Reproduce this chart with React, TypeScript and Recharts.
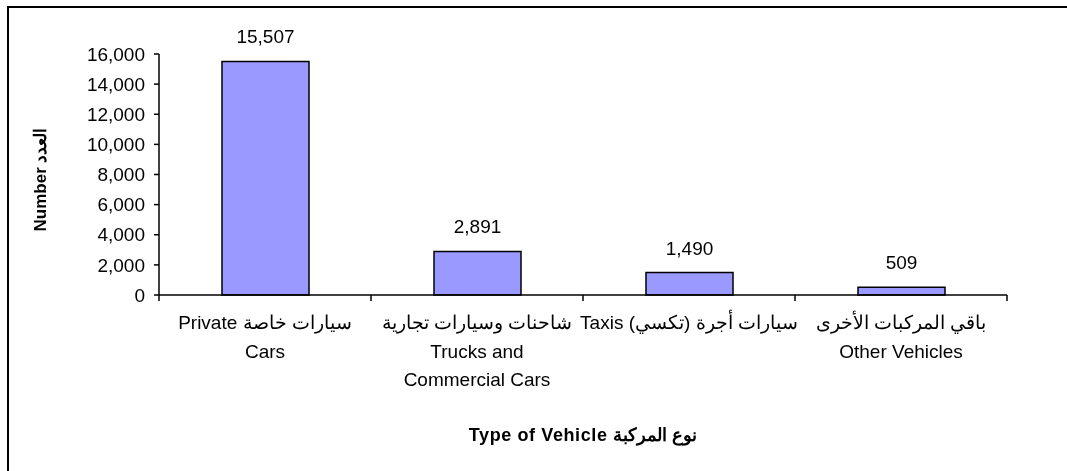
import React from 'react';
import { BarChart, Bar, XAxis, YAxis, LabelList, Label } from 'recharts';

const categories: string[][] = [
  ['Private سيارات خاصة', 'Cars'],
  ['شاحنات وسيارات تجارية', 'Trucks and', 'Commercial Cars'],
  ['Taxis سيارات أجرة (تكسي)'],
  ['باقي المركبات الأخرى', 'Other Vehicles'],
];
const values: number[] = [15507, 2891, 1490, 509];
const yTicks: number[] = [0, 2000, 4000, 6000, 8000, 10000, 12000, 14000, 16000];
const xTitle = 'Type of Vehicle نوع المركبة';
const yTitle = 'Number العدد';

const data = categories.map((c, i) => ({ name: String(i), value: values[i] }));

const FONT = '"Liberation Sans", Arial, sans-serif';
const fmt = (v: number) => v.toLocaleString('en-US');

const CatTick = (props: any) => {
  const { x, y, payload, index, visibleTicksCount } = props;
  const half = payload && payload.offset ? payload.offset : 0;
  const lines = categories[Number(payload.value)] || [];
  const isLast = index === visibleTicksCount - 1;
  return (
    <g>
      <line x1={x - half} x2={x - half} y1={y} y2={y + 6} stroke="#000" strokeWidth={1.5} />
      {isLast && (
        <line x1={x + half} x2={x + half} y1={y} y2={y + 6} stroke="#000" strokeWidth={1.5} />
      )}
      <text x={x} y={y} textAnchor="middle" fontFamily={FONT} fontSize={19} fill="#000">
        {lines.map((l, i) => (
          <tspan key={i} x={x} dy={i === 0 ? 34 : 28.5}>{l}</tspan>
        ))}
      </text>
    </g>
  );
};

export default function App() {
  return (
    <div>
      <div
        style={{
          position: 'fixed',
          top: 6,
          left: 7,
          right: -20,
          bottom: -20,
          border: '2px solid #000',
          pointerEvents: 'none',
        }}
      />
      <div style={{ position: 'fixed', top: 8, left: 9 }}>
        <BarChart
          width={1058}
          height={460}
          data={data}
          margin={{ top: 46, right: 60, bottom: 0, left: 10 }}
          barSize={87}
        >
          <XAxis
            dataKey="name"
            height={173}
            axisLine={{ stroke: '#000', strokeWidth: 1.5 }}
            tickLine={false}
            tickSize={0}
            tickMargin={0}
            interval={0}
            tick={<CatTick />}
          >
            <Label
              content={(p: any) => {
                const vb = p.viewBox;
                return (
                  <text
                    x={vb.x + vb.width / 2}
                    y={vb.y + 146}
                    textAnchor="middle"
                    fontFamily={FONT}
                    fontSize={18}
                    fontWeight="bold"
                    letterSpacing={0.6}
                    fill="#000"
                  >
                    {xTitle}
                  </text>
                );
              }}
            />
          </XAxis>
          <YAxis
            width={140}
            domain={[0, 16000]}
            ticks={yTicks}
            tickFormatter={fmt}
            tickSize={5}
            tickMargin={9}
            tick={{ fill: '#000', fontSize: 19, fontFamily: FONT }}
            axisLine={{ stroke: '#000', strokeWidth: 1.5 }}
            tickLine={{ stroke: '#000', strokeWidth: 1.5 }}
          >
            <Label
              content={(p: any) => {
                const vb = p.viewBox;
                const cx = vb.x + 21;
                const cy = vb.y + vb.height / 2 + 5;
                return (
                  <text
                    x={cx}
                    y={cy}
                    transform={`rotate(-90 ${cx} ${cy})`}
                    textAnchor="middle"
                    dominantBaseline="central"
                    fontFamily={FONT}
                    fontSize={17}
                    fontWeight="bold"
                    fill="#000"
                  >
                    {yTitle}
                  </text>
                );
              }}
            />
          </YAxis>
          <Bar
            dataKey="value"
            fill="#9999FF"
            stroke="#000"
            strokeWidth={1.5}
            isAnimationActive={false}
          >
            <LabelList
              dataKey="value"
              position="top"
              offset={18}
              formatter={(v: any) => fmt(Number(v))}
              style={{ fill: '#000', fontSize: 19, fontFamily: FONT }}
            />
          </Bar>
        </BarChart>
      </div>
    </div>
  );
}
